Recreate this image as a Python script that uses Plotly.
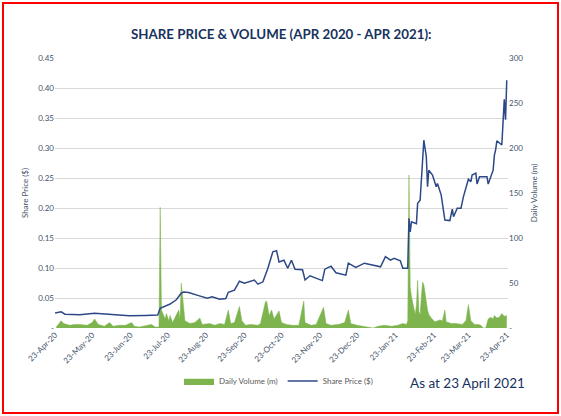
import plotly.graph_objects as go

price_dates = ["2020-04-23","2020-04-28","2020-05-01","2020-05-13","2020-05-25","2020-06-06","2020-06-14","2020-06-22",
 "2020-07-05","2020-07-15","2020-07-17","2020-07-25","2020-07-30","2020-08-03","2020-08-05","2020-08-09","2020-08-17",
 "2020-08-24","2020-08-28","2020-09-03","2020-09-08","2020-09-10","2020-09-15","2020-09-19","2020-09-23","2020-09-27",
 "2020-10-01","2020-10-04","2020-10-08","2020-10-12","2020-10-16","2020-10-19","2020-10-21","2020-10-25","2020-10-28",
 "2020-10-31","2020-11-03","2020-11-09","2020-11-11","2020-11-15","2020-11-20","2020-11-25","2020-11-27","2020-12-02",
 "2020-12-06","2020-12-14","2020-12-16","2020-12-22","2020-12-29","2021-01-11","2021-01-15","2021-01-19","2021-01-22",
 "2021-01-27","2021-01-29","2021-02-02","2021-02-03","2021-02-04","2021-02-05","2021-02-09","2021-02-10","2021-02-12",
 "2021-02-15","2021-02-17","2021-02-18","2021-02-19","2021-02-22","2021-02-25","2021-02-26","2021-03-01","2021-03-04",
 "2021-03-08","2021-03-10","2021-03-11","2021-03-14","2021-03-17","2021-03-19","2021-03-23","2021-03-25","2021-03-26",
 "2021-03-29","2021-03-30","2021-04-01","2021-04-07","2021-04-08","2021-04-12","2021-04-13","2021-04-14","2021-04-15",
 "2021-04-19","2021-04-21","2021-04-22","2021-04-23"]
price_values = [0.025,0.027,0.023,0.022,0.0245,0.023,0.022,0.0205,
 0.021,0.0215,0.033,0.040,0.047,0.058,0.060,0.059,0.054,
 0.0495,0.052,0.048,0.049,0.0595,0.063,0.078,0.0745,0.077,
 0.080,0.073,0.077,0.0995,0.127,0.129,0.110,0.113,0.0995,
 0.113,0.098,0.097,0.080,0.087,0.083,0.079,0.098,0.103,
 0.092,0.088,0.108,0.101,0.108,0.102,0.119,0.113,0.116,
 0.112,0.0995,0.0995,0.183,0.160,0.177,0.174,0.208,0.213,
 0.313,0.2855,0.2355,0.263,0.255,0.2355,0.241,0.222,0.180,
 0.179,0.198,0.1855,0.1995,0.1995,0.219,0.248,0.244,0.255,
 0.258,0.240,0.252,0.252,0.240,0.263,0.288,0.297,0.312,
 0.305,0.381,0.347,0.413]

vol_dates = ["2020-04-24","2020-04-28","2020-04-30","2020-05-05","2020-05-09","2020-05-13","2020-05-19","2020-05-23",
 "2020-05-25","2020-05-28","2020-06-02","2020-06-06","2020-06-09","2020-06-14","2020-06-19","2020-06-24","2020-06-26",
 "2020-06-30","2020-07-07","2020-07-10","2020-07-13","2020-07-16","2020-07-17","2020-07-18","2020-07-21","2020-07-22",
 "2020-07-24","2020-07-25","2020-07-27","2020-07-29","2020-08-01","2020-08-02","2020-08-03","2020-08-05","2020-08-06",
 "2020-08-10","2020-08-14","2020-08-18","2020-08-20","2020-08-26","2020-08-30","2020-09-03","2020-09-07","2020-09-10",
 "2020-09-12","2020-09-15","2020-09-19","2020-09-21","2020-09-24","2020-09-28","2020-10-04","2020-10-06","2020-10-10",
 "2020-10-11","2020-10-13","2020-10-15","2020-10-17","2020-10-21","2020-10-23","2020-10-27","2020-11-01","2020-11-06",
 "2020-11-10","2020-11-11","2020-11-16","2020-11-20","2020-11-26","2020-11-28","2020-12-02","2020-12-08","2020-12-13",
 "2020-12-16","2020-12-18","2020-12-23","2020-12-29","2021-01-04","2021-01-05","2021-01-09","2021-01-14","2021-01-20",
 "2021-01-25","2021-01-29","2021-02-01","2021-02-02","2021-02-03","2021-02-04","2021-02-05","2021-02-07","2021-02-08",
 "2021-02-09","2021-02-10","2021-02-11","2021-02-12","2021-02-13","2021-02-14","2021-02-15","2021-02-16","2021-02-17",
 "2021-02-18","2021-02-19","2021-02-21","2021-02-24","2021-02-28","2021-03-02","2021-03-04","2021-03-05","2021-03-09",
 "2021-03-13","2021-03-18","2021-03-21","2021-03-23","2021-03-25","2021-03-28","2021-03-31","2021-04-02","2021-04-04",
 "2021-04-06","2021-04-08","2021-04-10","2021-04-12","2021-04-13","2021-04-15","2021-04-17","2021-04-19","2021-04-21",
 "2021-04-23"]
vol_values = [1,8,5,3,4,4,3,6,
 10,4,2,6,2,3,3,6,2,
 1,3,4,1,1,134,20,10,16,
 8,14,6,12,20,10,50,22,8,
 5,6,11,4,5,3,5,4,20,
 5,6,24,8,3,4,3,5,29,
 30,14,20,10,19,6,4,3,3,
 30,6,3,4,23,5,3,4,6,
 20,5,3,2,1,0,2,3,2,
 3,5,4,8,170,45,35,22,15,
 25,53,18,15,35,51,48,38,30,
 20,15,11,7,9,8,20,7,5,
 5,4,8,26,8,4,4,3,0,
 0,10,12,10,14,11,12,16,13,
 14]

tick_dates = ["2020-04-23","2020-05-23","2020-06-23","2020-07-23","2020-08-23","2020-09-23","2020-10-23",
 "2020-11-23","2020-12-23","2021-01-23","2021-02-23","2021-03-23","2021-04-23"]
tick_labels = ["23-Apr-20","23-May-20","23-Jun-20","23-Jul-20","23-Aug-20","23-Sep-20","23-Oct-20",
 "23-Nov-20","23-Dec-20","23-Jan-21","23-Feb-21","23-Mar-21","23-Apr-21"]
price_ticks = [0, 0.05, 0.10, 0.15, 0.20, 0.25, 0.30, 0.35, 0.40, 0.45]
price_tick_labels = ["-", "0.05", "0.10", "0.15", "0.20", "0.25", "0.30", "0.35", "0.40", "0.45"]
vol_ticks = [0, 50, 100, 150, 200, 250, 300]
vol_tick_labels = ["-", "50", "100", "150", "200", "250", "300"]

NAVY = "#17325e"
AXC = "#44546a"
GREEN = "#7db44e"
LINE = "#2c4886"

fig = go.Figure()
fig.add_trace(go.Scatter(x=vol_dates, y=vol_values, name="Daily Volume (m)", mode="lines",
                         line=dict(color=GREEN, width=0.5), fill="tozeroy", fillcolor=GREEN, yaxis="y"))
fig.add_trace(go.Scatter(x=price_dates, y=price_values, name="Share Price ($)", mode="lines",
                         line=dict(color=LINE, width=1.5), yaxis="y2"))

L, R, T, B = 55, 53, 58, 88
W, H = 561, 416
pw, ph = W - L - R, H - T - B
def px(x): return (x - L) / pw
def py(y): return (H - B - y) / ph

fig.update_layout(
    width=W, height=H, margin=dict(l=L, r=R, t=T, b=B),
    paper_bgcolor="white", plot_bgcolor="white",
    font=dict(family="Lato, Open Sans, sans-serif", color=AXC, size=8),
    showlegend=True,
    legend=dict(orientation="h", x=px(179), y=py(381), xanchor="left", yanchor="middle",
                font=dict(size=8, color="#595959"), bgcolor="rgba(0,0,0,0)", itemwidth=30),
    xaxis=dict(type="date", range=["2020-04-23", "2021-04-24"], tickvals=tick_dates, ticktext=tick_labels,
               tickangle=-45, showgrid=False, zeroline=False, showline=False, ticks="",
               tickfont=dict(size=8, color=AXC)),
    yaxis=dict(range=[0, 300], tickvals=vol_ticks, ticktext=vol_tick_labels, side="right",
               showgrid=False, zeroline=False, showline=False, ticks="",
               tickfont=dict(size=8, color=AXC),
               title=dict(text="Daily Volume (m)", font=dict(size=8, color=AXC), standoff=9)),
    yaxis2=dict(range=[0, 0.45], tickvals=price_ticks, ticktext=price_tick_labels, side="left",
                overlaying="y", showgrid=True, gridcolor="#d9d9d9", gridwidth=1, zeroline=False,
                showline=False, ticks="", tickfont=dict(size=8, color=AXC),
                title=dict(text="Share Price ($)", font=dict(size=8, color=AXC), standoff=8)),
    shapes=[dict(type="rect", xref="paper", yref="paper", x0=px(3), x1=px(558), y0=py(413), y1=py(3),
                 line=dict(color="#ff0000", width=2), fillcolor="rgba(0,0,0,0)", layer="above")],
    annotations=[
        dict(text="<b>SHARE PRICE & VOLUME (APR 2020 - APR 2021):</b>", xref="paper", yref="paper",
             x=px(281), y=py(34), xanchor="center", yanchor="middle", showarrow=False,
             font=dict(size=13.3, color=NAVY, family="Lato, Open Sans, sans-serif")),
        dict(text="As at 23 April 2021", xref="paper", yref="paper", x=px(408), y=py(383),
             xanchor="left", yanchor="middle", showarrow=False,
             font=dict(size=13.5, color=NAVY, family="Lato, Open Sans, sans-serif")),
    ],
)

fig.write_html("out.html")
